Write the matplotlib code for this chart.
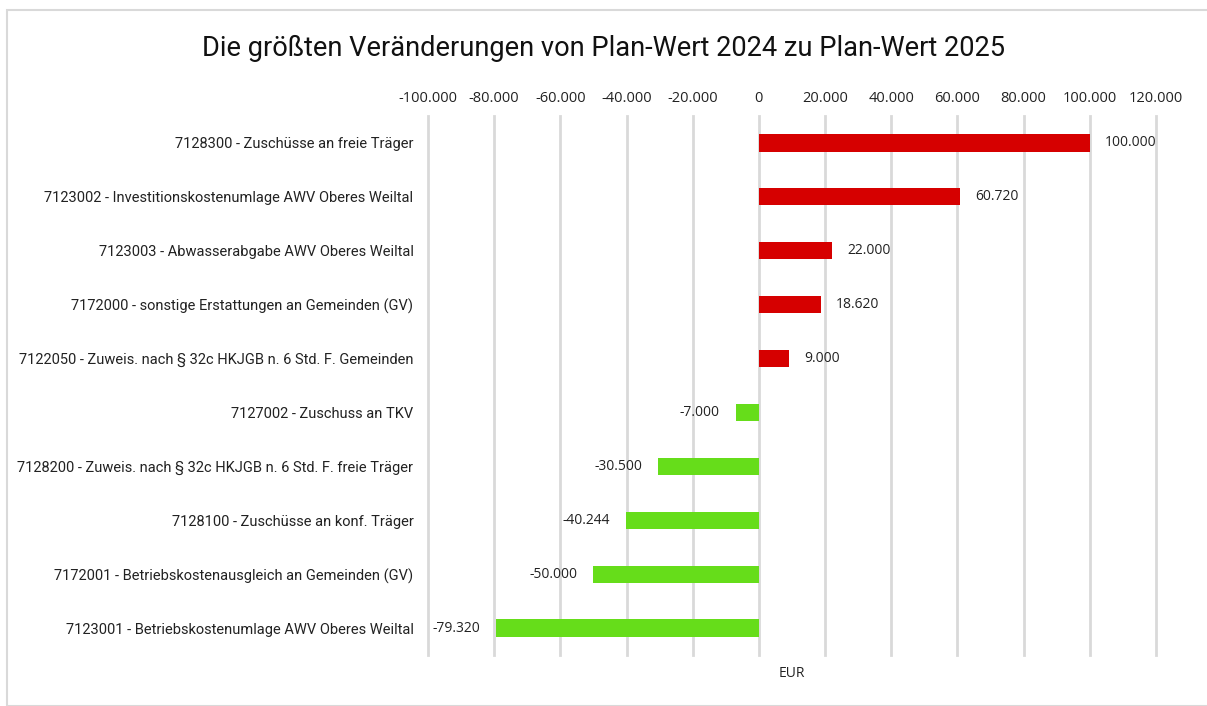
import matplotlib
matplotlib.use('Agg')
import matplotlib.pyplot as plt
from matplotlib.patches import Rectangle

# data, top to bottom as shown
labels = [
    '7128300 - Zuschüsse an freie Träger',
    '7123002 - Investitionskostenumlage AWV Oberes Weiltal',
    '7123003 - Abwasserabgabe AWV Oberes Weiltal',
    '7172000 - sonstige Erstattungen an Gemeinden (GV)',
    '7122050 - Zuweis. nach § 32c HKJGB n. 6 Std. F. Gemeinden',
    '7127002 - Zuschuss an TKV',
    '7128200 - Zuweis. nach § 32c HKJGB n. 6 Std. F. freie Träger',
    '7128100 - Zuschüsse an konf. Träger',
    '7172001 - Betriebskostenausgleich an Gemeinden (GV)',
    '7123001 - Betriebskostenumlage AWV Oberes Weiltal',
]
values = [100000, 60720, 22000, 18620, 9000, -7000, -30500, -40244, -50000, -79320]
ticks = [-100000, -80000, -60000, -40000, -20000, 0, 20000, 40000, 60000, 80000, 100000, 120000]

narrow = ['Roboto', 'DejaVu Sans']
plain = ['Open Sans', 'DejaVu Sans']


def fmt(v):
    return '{:,.0f}'.format(v).replace(',', '.')


fig = plt.figure(figsize=(12.07, 7.06), dpi=100)
ax = fig.add_axes([428/1207, 1 - 655/706, (1156 - 428)/1207, 539/706])

ypos = list(range(len(labels)))
colors = ['#d60000' if v > 0 else '#66dd1a' for v in values]
ax.barh(ypos, values, height=0.32, color=colors, zorder=3)
ax.set_ylim(len(labels) - 0.5, -0.5)
ax.set_xlim(-100000, 120000)

ax.set_xticks(ticks)
ax.set_xticklabels([fmt(t) if t != 0 else '0' for t in ticks], fontsize=10.5, family=plain)
ax.xaxis.tick_top()
ax.tick_params(axis='x', length=0, pad=7, colors='#222222')
ax.set_yticks(ypos)
ax.set_yticklabels(labels, fontsize=10.5, family=narrow)
ax.tick_params(axis='y', length=0, pad=10.5, colors='#222222')

ax.grid(axis='x', color='#d9d9d9', linewidth=2, zorder=0)
for gl in ax.xaxis.get_gridlines():
    gl.set_clip_on(False)
for s in ax.spines.values():
    s.set_visible(False)

for y, v in zip(ypos, values):
    if v > 0:
        ax.annotate(fmt(v), (v, y), xytext=(11, 0), textcoords='offset points',
                    ha='left', va='center', fontsize=10, family=plain, color='#222222')
    else:
        ax.annotate(fmt(v), (v, y), xytext=(-11.5, 0), textcoords='offset points',
                    ha='right', va='center', fontsize=10, family=plain, color='#222222')

ax.set_xlabel('EUR', fontsize=10, family=plain, color='#222222', labelpad=8)
ax.xaxis.set_label_position('bottom')

fig.text(0.5, 1 - 48/706, 'Die größten Veränderungen von Plan-Wert 2024 zu Plan-Wert 2025',
         ha='center', va='center', fontsize=19.6, family=narrow, color='#111111')

fig.patches.append(Rectangle((7/1207, 0), 1, 1 - 10/706, transform=fig.transFigure,
                             fill=False, edgecolor='#d9d9d9', linewidth=1.5))

fig.savefig('out.png', dpi=100)
